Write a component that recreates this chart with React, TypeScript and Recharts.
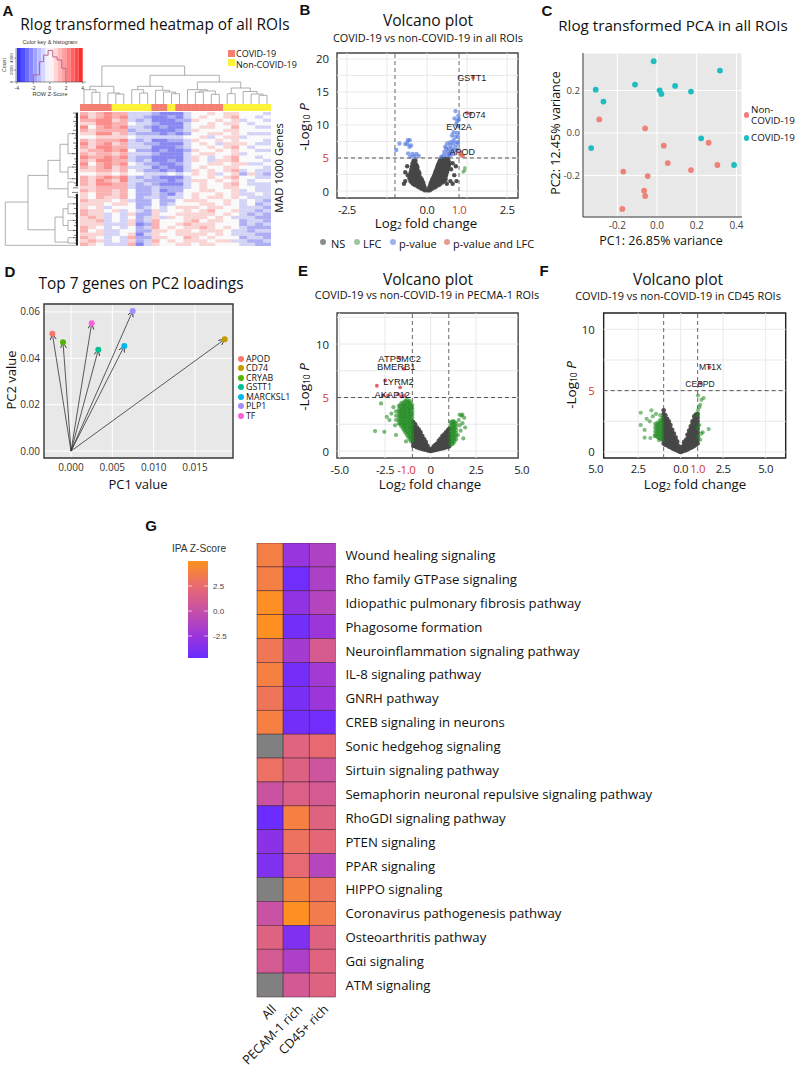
import {
  CartesianGrid, ComposedChart, Line, LineChart, ReferenceArea, ReferenceDot, ReferenceLine,
  Scatter, ScatterChart, XAxis, YAxis,
} from 'recharts';

const FONT = '"Open Sans", sans-serif';
const ARIAL = '"Liberation Sans", Arial, sans-serif';

type Pair = [number, number];
type Column = [number, number[]];

// ---- A: heatmap, z-scores by row (top to bottom) and column
const heatRows: number[][] = [
  [2, 1, 2, 3, 2, 2, -1, -1, -1, -2, -3, -3, -3, -1, 0, 0, 1, 0, 1, 1, 0, 0, 0, -1],
  [3, 1, 2, 3, 2, 3, -1, -1, -2, -3, -3, -2, -3, -1, 0, 1, 0, 0, 1, 2, 0, 0, -1, 0],
  [2, 2, 3, 3, 1, 2, -1, -2, -1, -3, -3, -3, -2, -2, 1, 0, 0, 1, 0, 1, -1, 0, 0, -1],
  [1, 1, 3, 3, 2, 2, 0, -1, -1, -2, -3, -3, -3, -1, 0, 0, 1, 0, 1, 1, 0, -1, 0, 0],
  [3, 0, 2, 3, 2, 3, -1, -1, -2, -3, -2, -3, -3, -1, 0, 1, 1, 0, 0, 2, 0, 0, -1, -1],
  [2, 1, 2, 2, 2, 2, -2, -1, -1, -3, -3, -3, -2, -1, 1, 0, 0, 0, 1, 1, 0, 0, 0, 0],
  [1, 1, 3, 3, 1, 2, -1, -2, -2, -2, -3, -2, -3, -2, 0, 0, 1, 1, 0, 1, 0, -1, -1, -1],
  [0, 0, 1, 1, 1, 1, 0, -1, -1, -1, -1, -1, -1, 0, 0, 1, -1, 0, 1, 1, -1, 0, 0, 0],
  [2, 1, 2, 2, 2, 3, -1, -2, -1, -3, -3, -2, -2, -1, 1, 0, 0, 1, 0, 1, 0, 0, 0, -1],
  [3, 1, 2, 3, 1, 2, -1, -1, -2, -2, -3, -3, -3, -1, 0, 1, 0, -1, 1, 1, 1, 0, -1, -1],
  [2, 1, 3, 3, 2, 2, -1, -1, -1, -3, -3, -3, -2, -1, 0, 0, 1, 0, 1, 2, 0, -1, 0, 0],
  [1, 2, 2, 3, 2, 3, 0, -2, -2, -3, -2, -3, -3, -2, 1, 0, 0, 1, 0, 1, 0, 0, -1, -1],
  [2, 1, 2, 2, 1, 2, -1, -1, -1, -2, -3, -3, -3, -1, 0, 1, 1, 0, 0, 1, -1, 0, 0, 0],
  [3, 2, 2, 3, 2, 3, -1, -2, -2, -3, -3, -3, -3, -1, 1, 0, -1, 0, 1, 2, 0, 0, -1, 0],
  [2, 1, 3, 3, 2, 2, -1, -2, -1, -3, -3, -2, -3, -1, 1, 0, -1, 1, 1, 2, 0, 0, 0, -1],
  [3, 0, 2, 3, 2, 3, 0, -1, -2, -2, -3, -3, -2, -1, 0, 0, 1, 1, 0, 1, 1, -1, -1, 0],
  [2, 1, 2, 3, 1, 2, -1, -1, -1, -3, -2, -3, -3, -1, 0, 1, 0, 0, 1, 1, 0, 0, 0, -1],
  [1, 1, 2, 2, 1, 2, 0, -1, -2, -2, -3, -2, -3, -1, 1, 0, 1, 0, 1, 2, -1, 0, -1, -1],
  [0, 0, 1, 1, 0, 1, 0, 0, -1, -1, -1, 0, -1, 0, 1, 0, 1, -1, 0, 1, -2, 1, -1, -2],
  [2, 1, 2, 3, 2, 3, -1, -2, -1, -2, -3, -3, -3, -1, 0, 0, 1, 0, 1, 2, 0, 0, -1, -1],
  [2, 1, 3, 2, 1, 3, -1, -1, -2, -2, -2, -3, -2, -1, 1, 1, 0, 1, 0, 1, 0, -1, 0, 0],
  [2, 1, 3, 3, 2, 2, -1, -2, -1, -2, -3, -3, -3, -1, 0, 1, 0, 0, 1, 2, 0, -1, -1, -1],
  [1, 1, 2, 2, 2, 2, -1, -2, -2, -1, -2, -2, -2, -1, 0, 1, 0, 0, 1, 1, 0, 0, -1, -1],
  [2, 1, 2, 2, 1, 2, 0, -2, -2, -1, -3, -2, -2, 0, 0, 1, 1, 0, 0, 1, -1, 0, -1, -1],
  [1, 0, 2, 2, 1, 2, 0, -2, -2, -1, -2, -3, -1, 0, 1, 0, 0, 1, 0, 1, -1, -1, 0, -1],
  [1, 0, 2, 1, 1, 2, 0, -2, -1, -1, -2, -1, -1, 0, 1, 0, 1, 1, 0, 1, 0, -1, -1, -1],
  [2, 1, 1, 1, 0, 1, -1, -2, -2, 0, -2, -2, 0, 1, 1, 1, 0, 0, 1, 0, -1, 0, -1, -2],
  [1, 1, 1, 0, 1, 1, 0, -2, -2, 0, -2, -1, 0, 0, 0, 1, 1, 0, 1, 0, -1, 0, -2, -1],
  [1, 0, 1, -1, 0, 0, 0, -2, -1, 0, -1, 0, 1, 1, 1, 0, 1, 1, 0, 0, -1, -1, -1, -2],
  [2, 1, 1, 0, 1, -1, 0, -1, -2, 1, -1, 0, 0, 1, 0, 1, 2, 0, 0, 1, -1, -1, -2, -1],
  [2, 1, 1, -1, 0, -1, 1, -2, -2, 1, 0, 0, 1, 1, 1, 1, 1, 0, 1, 0, -1, -2, -1, -2],
  [1, 2, 1, -1, 0, -1, 0, -2, -1, 1, -1, 1, 0, 1, 1, 1, 0, 1, 0, -1, -1, -1, -2, -2],
  [1, 1, 2, -1, 0, -1, 1, -2, -1, 2, 0, 0, 0, 1, 2, 0, 1, 1, 0, 0, -2, -1, -1, -2],
  [1, 1, 1, -1, -1, -1, 1, -3, -2, 2, 0, 0, 1, 2, 1, 1, 1, 0, 0, 0, -2, -1, -2, -1],
  [2, 1, 0, -1, 0, -1, 0, -2, -1, 2, 0, 1, 0, 1, 1, 2, 1, 0, 1, 0, -1, -2, -2, -2],
  [2, 0, 1, -1, -1, 0, 0, -2, -2, 1, 1, 0, 1, 1, 0, 1, 1, 1, 0, -1, -1, -2, -1, -1],
  [1, 1, 1, -1, -1, 0, 1, -3, -1, 1, 0, 0, 1, 1, 1, 1, 0, 1, 0, -1, -1, -1, -2, -2],
  [2, 1, 0, -1, 0, -1, 2, -2, -2, 1, 1, 0, 0, 2, 1, 0, 1, 0, 0, 0, -2, -1, -1, -2],
  [1, 2, 1, -1, 0, -1, 1, -2, -1, 2, 0, 1, 0, 1, 1, 1, 0, 1, 1, -1, -1, -2, -2, -1],
  [2, 1, 0, -1, -1, -1, 2, -3, -1, 1, 0, 0, 1, 1, 0, 1, 1, 0, 0, 0, -1, -1, -2, -2],
];
const columnGroups = ['c', 'c', 'c', 'c', 'n', 'n', 'n', 'n', 'n', 'c', 'c', 'n', 'c', 'c', 'c', 'c', 'c', 'c', 'n', 'n', 'n', 'n', 'n', 'n'];
// x1, x2, bar height, left child height, right child height
const topLinks: number[][] = [
  [1.5, 2.5, 11.7, 0, 0], [0.5, 2, 14.3, 0, 11.7], [4.5, 5.5, 10, 0, 0], [3.5, 5, 11, 0, 10], [1.25, 4.25, 17.7, 14.3, 11],
  [7.5, 8.5, 11, 0, 0], [6.5, 8, 14.3, 0, 11], [11.5, 12.5, 10.3, 0, 0], [10.5, 12, 12, 0, 10.3], [9.5, 11.25, 13.7, 0, 12],
  [7.25, 10.4, 17.7, 14.3, 13.7], [14.5, 15.5, 11.7, 0, 0], [16.5, 17.5, 9.7, 0, 0], [15, 17, 13, 11.7, 9.7], [13.5, 16, 14.3, 0, 13],
  [18.5, 19.5, 10.3, 0, 0], [22.5, 23.5, 8.7, 0, 0], [21.5, 23, 10, 0, 8.7], [20.5, 22.25, 12.5, 0, 10], [19, 21.4, 16, 10.3, 12.5],
  [14.75, 20.2, 22, 14.3, 16], [8.8, 17.5, 28.7, 17.7, 22], [2.75, 13.15, 38, 17.7, 28.7],
];
// depth, gene top, gene bottom, top child depth, bottom child depth
const leftLinks: number[][] = [
  [72.7, 672, 995, 50, 0], [50, 473, 879, 30, 23], [30, 361, 573, 18, 10], [18, 241, 448, 10, 10], [10, 162, 311, 5, 5],
  [10, 411, 498, 5, 5], [10, 523, 635, 4, 4], [23, 784, 971, 15, 10], [15, 722, 847, 10, 10], [10, 685, 759, 4, 4],
  [10, 809, 884, 4, 4], [10, 938, 978, 4, 4],
];
const fanLeaves: Pair[] = [
  [5, 8], [3, 22], [4, 38], [2, 52], [5, 70], [3, 88], [4, 104], [2, 120], [5, 136], [6, 162], [3, 178], [4, 196], [2, 214], [5, 232],
  [3, 254], [4, 272], [6, 311], [2, 328], [4, 350], [3, 372], [5, 392], [6, 411], [3, 430], [4, 452], [6, 498], [2, 512], [4, 530],
  [3, 548], [5, 566], [6, 600], [3, 622], [4, 640], [5, 685], [2, 700], [4, 720], [5, 759], [3, 776], [5, 809], [3, 826], [4, 848],
  [5, 884], [2, 900], [4, 920], [5, 938], [3, 956], [4, 978], [2, 990],
];
const fanBand: (Pair | null)[] = [[1, 5], [1, 555], null, [1, 610], [1, 995]];
const keyBins = [-4, -3.5, -3, -2.5, -2, -1.5, -1, -0.5, 0, 0.5, 1, 1.5, 2, 2.5, 3, 3.5, 4];
const keyHistogram: Pair[] = [[-2, 0], [-2, 1200], [-1.25, 3400], [-0.75, 4500], [-0.2, 5300], [0.37, 4200], [0.9, 3700], [1.46, 2300], [1.96, 0]];

// ---- B
const nsRowsB: Column[] = [
  [0.1, [-0.08, -0.02, 0.04, 0.09]],
  [0.35, [-0.17, -0.1, 0.09, 0.16]],
  [0.52, [-0.24, -0.15, -0.07, 0.07, 0.16, 0.24]],
  [0.7, [-0.3, -0.2, -0.11, 0.12, 0.21, 0.29]],
  [0.9, [-0.38, -0.28, -0.18, -0.1, 0.1, 0.18, 0.28, 0.37]],
  [1.1, [-0.44, -0.34, -0.24, -0.14, 0.14, 0.23, 0.33, 0.42, 0.62, 0.8, -0.72]],
  [1.3, [-0.48, -0.38, -0.28, -0.19, -0.12, 0.12, 0.2, 0.3, 0.4, 0.49]],
  [1.5, [-0.52, -0.42, -0.32, -0.23, -0.15, 0.16, 0.25, 0.35, 0.44, 0.53, 0.73, 0.92, -0.68]],
  [1.72, [-0.5, -0.41, -0.32, -0.23, -0.16, 0.16, 0.24, 0.33, 0.42, 0.52, 0.58]],
  [1.95, [-0.55, -0.46, -0.37, -0.28, -0.19, 0.19, 0.28, 0.37, 0.47, 0.56]],
  [2.17, [-0.5, -0.41, -0.32, -0.23, 0.21, 0.3, 0.4, 0.49, 0.58]],
  [2.4, [-0.6, -0.53, -0.44, -0.35, -0.26, 0.23, 0.32, 0.41, 0.5, 0.59, 0.85]],
  [2.62, [-0.48, -0.39, -0.3, -0.24, 0.25, 0.34, 0.43, 0.52, 0.6]],
  [2.85, [-0.68, -0.51, -0.42, -0.33, -0.25, 0.26, 0.35, 0.44, 0.53, 0.62]],
  [3.07, [-0.46, -0.37, -0.29, 0.28, 0.37, 0.46, 0.55, 0.63]],
  [3.3, [-0.49, -0.4, -0.31, 0.3, 0.39, 0.48, 0.57, 0.64, 0.75]],
  [3.52, [-0.44, -0.36, -0.3, 0.32, 0.41, 0.5, 0.59, 0.66]],
  [3.75, [-0.62, -0.47, -0.38, -0.31, 0.33, 0.42, 0.51, 0.6, 0.67, 0.9]],
  [3.97, [-0.42, -0.34, 0.35, 0.44, 0.53, 0.62, 0.68]],
  [4.2, [-0.45, -0.37, 0.37, 0.46, 0.55, 0.64, 0.7, 0.8]],
  [4.4, [-0.4, 0.39, 0.48, 0.57, 0.66]],
  [4.6, [-0.42, -0.36, 0.4, 0.49, 0.58, 0.67]],
  [4.9, [0.45, 0.55, 0.65]],
];
const lfcB: Pair[] = [[1.18, 3.5], [1.13, 2.9], [1.17, 3.1]];
const pvalueB: Pair[] = [
  [0.89, 12.1], [0.98, 11.4], [0.86, 11], [0.94, 10.6], [0.99, 10.8], [0.91, 10.1], [0.97, 9.8], [0.83, 8.9], [0.94, 8.8], [0.78, 8.4],
  [0.89, 8.2], [0.97, 8.2], [0.73, 7.4], [0.83, 7.7], [0.63, 7.2], [0.73, 6.9], [0.83, 7.2], [0.94, 7.4], [0.57, 6.7], [0.68, 6.4],
  [0.78, 6.4], [0.89, 6.7], [0.97, 7.2], [0.54, 5.9], [0.65, 5.9], [0.75, 5.9], [0.85, 6.1], [0.52, 5.4], [0.63, 5.4], [0.73, 5.4],
  [0.83, 5.6], [0.94, 6.2], [0.6, 6.4], [0.7, 5.6], [0.45, 5.2],
  [-0.96, 6.2], [-0.86, 7.2], [-0.6, 7.7], [-0.54, 7.7], [-0.62, 7.2], [-0.5, 6.9], [-0.68, 7.1], [-0.55, 6.7], [-0.45, 5.6], [-0.59, 5.7],
  [-0.33, 5.6], [-0.52, 5.2], [-0.4, 5.2], [-0.26, 5.3],
];
const bothB: Pair[] = [[1.44, 17.2], [1.25, 11.8], [1.35, 11.7], [1.07, 5.4], [1.12, 5.3], [1.04, 5.8]];
const genesB: [string, number, number][] = [['GSTT1', 1.4, 17.1], ['CD74', 1.47, 11.6], ['EVI2A', 1.0, 9.7], ['APOD', 1.1, 5.9]];
const legendB = ['NS', 'LFC', 'p-value', 'p-value and LFC'];
const legendColorsB = ['#8c8c8c', '#9cc79c', '#9db1ee', '#e79a90'];

// ---- C
const covidPca: Pair[] = [
  [-0.017, 0.338], [0.317, 0.294], [-0.309, 0.204], [-0.111, 0.228], [0.013, 0.201], [0.022, 0.184], [0.091, 0.222], [0.171, 0.195],
  [-0.27, 0.148], [0.222, -0.025], [-0.332, -0.071], [0.388, -0.151],
];
const nonCovidPca: Pair[] = [
  [-0.291, 0.064], [-0.06, 0.022], [0.034, -0.06], [0.26, -0.046], [0.054, -0.142], [0.304, -0.151], [0.171, -0.175], [-0.17, -0.182],
  [-0.047, -0.203], [-0.065, -0.272], [-0.06, -0.297], [-0.175, -0.358],
];

// ---- D
const loadingGenes = ['APOD', 'CD74', 'CRYAB', 'GSTT1', 'MARCKSL1', 'PLP1', 'TF'];
const loadingPc1 = [-0.00226, 0.0186, -0.00097, 0.0033, 0.00645, 0.00746, 0.0025];
const loadingPc2 = [0.0506, 0.0482, 0.0469, 0.0437, 0.0453, 0.0604, 0.0551];
const loadingColors = ['#f8766d', '#c49a00', '#53b400', '#00c094', '#00b6eb', '#a58aff', '#fb61d7'];

// ---- E
const nsColsE: Column[] = [
  [-0.95, [0.5, 0.8, 1.1, 1.4, 1.7, 2, 2.3, 2.7]],
  [-0.85, [0.45, 0.75, 1.05, 1.35, 1.65, 1.95, 2.25, 2.5]],
  [-0.75, [0.35, 0.65, 0.95, 1.25, 1.55, 1.9, 2.2]],
  [-0.65, [0.3, 0.6, 0.9, 1.2, 1.5, 1.85, 2.0]],
  [-0.55, [0.25, 0.55, 0.85, 1.15, 1.5, 1.75]],
  [-0.45, [0.2, 0.5, 0.8, 1.1, 1.4]],
  [-0.35, [0.15, 0.45, 0.75, 1.1]],
  [-0.26, [0.12, 0.35, 0.6, 0.85]],
  [-0.17, [0.08, 0.3, 0.5]],
  [-0.08, [0.03, 0.2]],
  [0, [0, 0.12]],
  [0.08, [0.03, 0.18]],
  [0.17, [0.07, 0.28, 0.42]],
  [0.26, [0.1, 0.32, 0.55]],
  [0.35, [0.14, 0.4, 0.68]],
  [0.45, [0.18, 0.45, 0.72, 0.95]],
  [0.55, [0.22, 0.5, 0.8, 1.15]],
  [0.65, [0.27, 0.55, 0.85, 1.15, 1.4]],
  [0.75, [0.3, 0.6, 0.9, 1.25, 1.55]],
  [0.85, [0.35, 0.65, 0.95, 1.25, 1.55, 1.75]],
  [0.95, [0.4, 0.7, 1, 1.3, 1.6, 1.95]],
  [1.02, [0.45, 0.75, 1.05, 1.35, 1.65, 2.05]],
];
const lfcColsE: Column[] = [
  [-1, [1, 1.3, 1.6, 1.9, 2.2, 2.5, 2.8, 3.1, 3.4, 3.7, 4, 4.3]],
  [-1.08, [0.9, 1.2, 1.5, 1.8, 2.1, 2.4, 2.7, 3, 3.3, 3.6, 3.9, 4.2, 4.5]],
  [-1.15, [1.1, 1.4, 1.7, 2, 2.3, 2.6, 2.9, 3.2, 3.5, 3.8, 4.1, 4.4, 4.7]],
  [-1.22, [1.3, 1.6, 1.9, 2.2, 2.5, 2.8, 3.1, 3.4, 3.7, 4, 4.3, 4.6]],
  [-1.3, [1.5, 1.8, 2.1, 2.4, 2.7, 3, 3.3, 3.6, 3.9, 4.2, 4.5, 4.8]],
  [-1.38, [1.7, 2, 2.3, 2.6, 2.9, 3.2, 3.5, 3.8, 4.1, 4.4, 4.7]],
  [-1.45, [1.9, 2.2, 2.5, 2.8, 3.1, 3.4, 3.7, 4, 4.3, 4.6]],
  [-1.52, [2.1, 2.4, 2.7, 3, 3.3, 3.6, 3.9, 4.2, 4.4]],
  [-1.6, [2.3, 2.6, 2.9, 3.2, 3.5, 3.8, 4.1, 4.5]],
  [-1.68, [2.5, 2.8, 3.1, 3.4, 3.7, 4, 4.3]],
  [-1.75, [2.6, 2.9, 3.2, 3.5, 3.8, 4.2]],
  [-1.9, [2.9, 3.3, 3.7]],
  [1.1, [0.6, 0.9, 1.2, 1.5, 1.8, 2.1, 2.4, 2.7]],
  [1.18, [0.65, 0.95, 1.25, 1.55, 1.85, 2.15, 2.45, 2.75]],
  [1.25, [0.7, 1, 1.3, 1.6, 1.9, 2.2, 2.5, 2.8]],
  [1.32, [0.9, 1.2, 1.5, 1.8, 2.1, 2.4, 2.7]],
  [1.4, [1.1, 1.4, 1.7, 2, 2.3, 2.6]],
];
const lfcLooseE: Pair[] = [
  [-3.05, 1.87], [-2.54, 1.8], [-2.72, 4.45], [-2.26, 2.9], [-2.4, 3.2], [-1.9, 1.5], [-1.35, 0.9], [-2.04, 4.1], [-2.15, 3.5], [-1.95, 2.4],
  [1.55, 2.9], [1.7, 3.3], [1.85, 3.1], [1.6, 2.4], [1.75, 2.6], [1.65, 1.9], [1.9, 2.2], [1.8, 1.18], [1.6, 3.4], [1.5, 1.5], [1.75, 3.4],
];
const bothE: Pair[] = [[-2.95, 6.1], [-2.49, 6.6], [-1.47, 7.7], [-1.7, 8.7], [-1.67, 5.95], [-1.78, 5.3], [-1.61, 5.1], [-1.43, 5.2], [-2.34, 5.2], [-2.6, 5.2]];
const genesE: [string, number, number][] = [['ATP5MC2', -1.7, 8.6], ['BMERB1', -1.89, 7.9], ['LYRM2', -1.76, 6.5], ['AKAP12', -2.1, 5.3]];

// ---- F
const nsColsF: Column[] = [
  [-1, [0.7, 1, 1.3, 1.6, 1.9, 2.2, 2.5, 2.8, 3.1, 3.4]],
  [-0.9, [0.6, 0.9, 1.2, 1.5, 1.8, 2.1, 2.4, 2.7, 3.0]],
  [-0.8, [0.55, 0.85, 1.15, 1.45, 1.75, 2.05, 2.35, 2.7]],
  [-0.7, [0.45, 0.75, 1.05, 1.35, 1.65, 1.95, 2.3, 2.5]],
  [-0.6, [0.4, 0.7, 1, 1.3, 1.6, 1.9, 2.2]],
  [-0.5, [0.3, 0.6, 0.9, 1.2, 1.5, 1.8]],
  [-0.4, [0.25, 0.55, 0.85, 1.15, 1.5]],
  [-0.3, [0.18, 0.45, 0.72, 1.0, 1.2]],
  [-0.2, [0.12, 0.35, 0.6, 0.85]],
  [-0.1, [0.05, 0.25, 0.45]],
  [0, [0, 0.15]],
  [0.1, [0.05, 0.22, 0.42]],
  [0.2, [0.1, 0.3, 0.55, 0.8]],
  [0.3, [0.15, 0.4, 0.65, 0.95]],
  [0.4, [0.2, 0.5, 0.8, 1.1, 1.4]],
  [0.5, [0.28, 0.58, 0.88, 1.18, 1.5, 1.75]],
  [0.6, [0.35, 0.65, 0.95, 1.25, 1.55, 1.9, 2.1]],
  [0.7, [0.42, 0.72, 1.02, 1.32, 1.62, 1.95, 2.3, 2.5]],
  [0.8, [0.5, 0.8, 1.1, 1.4, 1.7, 2, 2.3, 2.6, 2.9]],
  [0.9, [0.6, 0.9, 1.2, 1.5, 1.8, 2.1, 2.4, 2.75, 3.05]],
  [1, [0.7, 1, 1.3, 1.6, 1.9, 2.2, 2.5, 2.8, 3.1]],
];
const lfcColsF: Column[] = [
  [-1.08, [1, 1.3, 1.6, 1.9, 2.2, 2.5, 2.8]],
  [-1.15, [1.05, 1.35, 1.65, 1.95, 2.25, 2.55]],
  [-1.22, [1.1, 1.4, 1.7, 2, 2.3, 2.6]],
  [-1.29, [1.15, 1.45, 1.75, 2.05, 2.35]],
  [-1.36, [1.2, 1.5, 1.8, 2.1, 2.4]],
  [-1.43, [1.3, 1.6, 1.9, 2.2]],
  [-1.5, [1.4, 1.7, 2, 2.3]],
];
const lfcLooseF: Pair[] = [
  [-2.35, 3.2], [-2.35, 2.2], [-2.12, 1.8], [-2.12, 1.17], [-1.72, 3.4], [-1.64, 2.9], [-1.82, 2.5], [-1.78, 1.13], [-1.53, 1.3], [-1.27, 0.95],
  [-1.45, 3.1], [-1.2, 3], [-2, 2.7],
  [1.35, 4.4], [1.22, 4.25], [1.02, 4.6], [1.1, 3.65], [1.02, 3.4], [1.15, 3.85], [1, 3], [1.22, 1.5], [1.65, 1.87], [1.02, 1.95], [1.3, 1.6],
  [1.1, 2.2], [1.15, 1], [1.05, 1.3],
];
const bothF: Pair[] = [[1.7, 6.9], [1.18, 5.6]];
const genesF: [string, number, number][] = [['MT1X', 1.75, 6.9], ['CEBPD', 1.14, 5.57]];

// ---- G
const pathways = [
  'Wound healing signaling', 'Rho family GTPase signaling', 'Idiopathic pulmonary fibrosis pathway', 'Phagosome formation',
  'Neuroinflammation signaling pathway', 'IL-8 signaling pathway', 'GNRH pathway', 'CREB signaling in neurons', 'Sonic hedgehog signaling',
  'Sirtuin signaling pathway', 'Semaphorin neuronal repulsive signaling pathway', 'RhoGDI signaling pathway', 'PTEN signaling', 'PPAR signaling',
  'HIPPO signaling', 'Coronavirus pathogenesis pathway', 'Osteoarthritis pathway', 'Gαi signaling', 'ATM signaling',
];
const ipaColumns = ['All', 'PECAM-1 rich', 'CD45+ rich'];
const zAll = [3.8, 3.8, 4.8, 4.9, 3.3, 3.9, 3.2, 3.9, null, 2.9, 0.3, -4.6, -3.2, -3.7, null, 0.2, 1.8, 1.0, null];
const zPecam = [-2.6, -4.4, -2.9, -4.3, -1.9, -4.2, -4.0, -4.3, 1.9, 1.7, 1.5, 3.9, 3.0, 2.4, 4.0, 4.9, -3.7, -1.5, 0.9];
const zCd45 = [-1.3, -1.4, -1.0, -2.4, 1.1, -2.0, -2.4, -4.4, 2.5, 0.5, 1.0, 1.8, 2.2, -0.9, 3.2, 3.6, 1.8, 1.9, 1.8];
const ipaStops: [number, number[]][] = [[-4.7, [106, 44, 255]], [-2.5, [154, 53, 220]], [0, [198, 80, 168]], [2.5, [232, 106, 112]], [5, [255, 146, 30]]];
const ipaTicks = [-2.5, 0, 2.5];

const toPoints = (a: Pair[]) => a.map(([x, y]) => ({ x, y }));
const fromRows = (rows: Column[]) => rows.flatMap(([y, xs]) => xs.map((x) => ({ x, y })));
const fromCols = (cols: Column[]) => cols.flatMap(([x, ys]) => ys.map((y) => ({ x, y })));

function heatColor(z: number) {
  const t = Math.min(Math.abs(z) / 3, 1);
  const end = z > 0 ? [250, 140, 140] : [136, 136, 240];
  const c = end.map((v) => Math.round(250 + (v - 250) * t));
  return `rgb(${c.join(',')})`;
}

function keyColor(z: number) {
  const t = Math.min(Math.abs(z) / 4, 1);
  const c = z > 0 ? [255, 255 - 225 * t, 255 - 225 * t] : [255 - 215 * t, 255 - 215 * t, 255];
  return `rgb(${c.map(Math.round).join(',')})`;
}

function ipaColor(z: number | null) {
  if (z === null) return '#808080';
  for (let i = 1; i < ipaStops.length; i++) {
    if (z <= ipaStops[i][0]) {
      const [a, ca] = ipaStops[i - 1];
      const [b, cb] = ipaStops[i];
      const t = (z - a) / (b - a);
      return `rgb(${ca.map((v, k) => Math.round(v + (cb[k] - v) * t)).join(',')})`;
    }
  }
  return 'rgb(255,146,30)';
}

function Txt({ x, y, size = 12, rotate = 0, bold = false, family = FONT, color = '#111', align = 'center', children }: any) {
  const shift = align === 'left' ? 'translate(0,-50%)' : 'translate(-50%,-50%)';
  return (
    <div style={{ position: 'absolute', left: x, top: y, fontSize: size, fontFamily: family, fontWeight: bold ? 700 : 400, color, lineHeight: 1, whiteSpace: 'nowrap', transform: `${shift} rotate(${rotate}deg)` }}>
      {children}
    </div>
  );
}

const Sub = ({ children }: any) => <span style={{ fontSize: '0.62em', verticalAlign: '-0.12em' }}>{children}</span>;
const LogP = () => <>-Log<Sub>10</Sub> <i>P</i></>;
const LogFc = () => <>Log<Sub>2</Sub> fold change</>;

const Dot = ({ x, y, r, color }: any) => (
  <div style={{ position: 'absolute', left: x - r, top: y - r, width: r * 2, height: r * 2, borderRadius: '50%', background: color }} />
);

const dotShape = (r: number, fill: string, opacity = 1) => (p: any) => <circle cx={p.cx} cy={p.cy} r={r} fill={fill} fillOpacity={opacity} />;

function linkPath(a: number, b: number, h: number, ha: number, hb: number) {
  return [{ x: a, y: ha }, { x: a, y: h }, { x: b, y: h }, { x: b, y: hb }, { x: b, y: null }];
}

const topDendro = topLinks.flatMap(([a, b, h, ha, hb]) => linkPath(a, b, h, ha, hb));
const leftDendro = leftLinks.flatMap(([d, g1, g2, d1, d2]) => [{ x: d1, y: g1 }, { x: d, y: g1 }, { x: d, y: g2 }, { x: d2, y: g2 }, { x: d2, y: null }]);
const fanLines = fanLeaves.flatMap(([d, g]) => [{ x: d, y: g }, { x: 0, y: g }, { x: 0, y: null }]);
const fanBandLine = fanBand.map((p) => (p ? { x: p[0], y: p[1] } : { x: 1, y: null }));
const heatCells = heatRows.flatMap((row, r) => row.map((z, c) => ({ x: c + 0.5, y: r + 0.5, z })));
const annotCells = columnGroups.map((g, c) => ({ x: c + 0.5, y: 0.5, g }));
const ipaCells = pathways.flatMap((_, r) => [zAll[r], zPecam[r], zCd45[r]].map((z, c) => ({ x: c + 0.5, y: r + 0.5, z })));

function HeatmapPanel() {
  const cellW = 191 / 24;
  const cellH = 134 / heatRows.length;
  return (
    <>
      <Txt x={8} y={10} size={15} bold family={ARIAL}>A</Txt>
      <Txt x={155} y={25} size={15.4}>Rlog transformed heatmap of all ROIs</Txt>
      <Txt x={50} y={43} size={5.6} family={ARIAL} color="#333">Color key &amp; histogram</Txt>
      <Txt x={50} y={95} size={5.6} family={ARIAL} color="#333">ROW Z-Score</Txt>
      <Txt x={5} y={65} size={5.2} rotate={-90} family={ARIAL} color="#333">Count</Txt>
      <div style={{ position: 'absolute', left: 4, top: 47 }}>
        <ComposedChart width={84} height={45} data={keyHistogram.map(([x, y]) => ({ x, y }))} margin={{ top: 1, right: 2, bottom: 0, left: 0 }}>
          <XAxis dataKey="x" type="number" domain={[-4.1, 4.4]} ticks={[-4, -2, 0, 2, 4]} interval={0} height={10} tickSize={2} tick={{ fontSize: 5, fill: '#333', fontFamily: ARIAL }} stroke="#333" strokeWidth={0.5} />
          <YAxis type="number" domain={[0, 5700]} ticks={[0, 2000, 4000]} interval={0} width={12} tickSize={2} stroke="#333" strokeWidth={0.5}
            tick={(p: any) => <text x={p.x + 1} y={p.y} fontSize={4.4} fill="#333" fontFamily={ARIAL} textAnchor="middle" transform={`rotate(-90 ${p.x + 1} ${p.y})`}>{p.payload.value}</text>} />
          {keyBins.map((b) => <ReferenceArea key={b} x1={b} x2={b + 0.5} y1={0} y2={5700} fill={keyColor(b + 0.25)} fillOpacity={1} stroke="none" />)}
          <Line dataKey="y" type="stepAfter" stroke="#b8658c" strokeWidth={1} dot={false} isAnimationActive={false} />
        </ComposedChart>
      </div>
      <div style={{ position: 'absolute', left: 228, top: 50, width: 7, height: 7, background: '#f47f74' }} />
      <div style={{ position: 'absolute', left: 228, top: 59, width: 7, height: 7, background: '#fdf33a' }} />
      <Txt x={236} y={53} size={9} align="left">COVID-19</Txt>
      <Txt x={236} y={63.5} size={9} align="left">Non-COVID-19</Txt>
      <div style={{ position: 'absolute', left: 80, top: 65 }}>
        <LineChart width={191} height={39} data={topDendro} margin={{ top: 0, right: 0, bottom: 0, left: 0 }}>
          <XAxis hide dataKey="x" type="number" domain={[0, 24]} />
          <YAxis hide type="number" domain={[0, 39]} />
          <Line dataKey="y" stroke="#9a9a9a" strokeWidth={0.8} dot={false} isAnimationActive={false} />
        </LineChart>
      </div>
      <div style={{ position: 'absolute', left: 4, top: 112 }}>
        <LineChart width={74} height={134} data={leftDendro} margin={{ top: 0, right: 0, bottom: 0, left: 0 }}>
          <XAxis hide dataKey="x" type="number" reversed domain={[0, 74]} />
          <YAxis hide type="number" reversed domain={[0, 1000]} />
          <Line dataKey="y" stroke="#9a9a9a" strokeWidth={0.8} dot={false} isAnimationActive={false} />
          <Line data={fanLines} dataKey="y" stroke="#222" strokeWidth={0.6} dot={false} isAnimationActive={false} />
          <Line data={fanBandLine} dataKey="y" stroke="#111" strokeWidth={1.8} dot={false} isAnimationActive={false} />
        </LineChart>
      </div>
      <div style={{ position: 'absolute', left: 80, top: 104 }}>
        <ScatterChart width={191} height={7} margin={{ top: 0, right: 0, bottom: 0, left: 0 }}>
          <XAxis hide dataKey="x" type="number" domain={[0, 24]} />
          <YAxis hide dataKey="y" type="number" domain={[0, 1]} />
          <Scatter data={annotCells} isAnimationActive={false}
            shape={(p: any) => <rect x={p.cx - cellW / 2 - 0.2} y={p.cy - 3.5} width={cellW + 0.4} height={7} fill={p.payload.g === 'c' ? '#f47f74' : '#fdf33a'} />} />
        </ScatterChart>
      </div>
      <div style={{ position: 'absolute', left: 80, top: 112 }}>
        <ScatterChart width={191} height={134} margin={{ top: 0, right: 0, bottom: 0, left: 0 }}>
          <XAxis hide dataKey="x" type="number" domain={[0, 24]} />
          <YAxis hide dataKey="y" type="number" reversed domain={[0, heatRows.length]} />
          <Scatter data={heatCells} isAnimationActive={false}
            shape={(p: any) => <rect x={p.cx - cellW / 2} y={p.cy - cellH / 2} width={cellW + 0.3} height={cellH + 0.3} fill={heatColor(p.payload.z)} />} />
        </ScatterChart>
      </div>
      <Txt x={279} y={168} size={11.2} rotate={-90}>MAD 1000 Genes</Txt>
    </>
  );
}

function Volcano({ plot, xDomain, yDomain, frameX, gridX, gridY, ticksX, ticksY, red, format, yDx = -6, frameColor = '#444', series, genes, labelSize = 9 }: any) {
  const [left, top, w, h] = plot;
  const [x1, x2] = frameX;
  const [y1, y2] = yDomain;
  return (
    <div style={{ position: 'absolute', left: left - 40, top: top - 2 }}>
      <ScatterChart width={40 + w + 14} height={2 + h + 22} margin={{ top: 2, right: 14, bottom: 0, left: 0 }}>
        <XAxis dataKey="x" type="number" domain={xDomain} ticks={ticksX} interval={0} height={22} tickSize={0} axisLine={false} tickLine={false}
          tick={(p: any) => {
            const v = p.payload.value;
            return <text x={p.x + (v === -1 ? -6 : 0)} y={p.y + 9} fontSize={11.4} letterSpacing={-0.4} fontFamily={FONT} fill={v === red[0] ? '#d8342c' : '#222'} textAnchor="middle" dominantBaseline="central">{format(v)}</text>;
          }} />
        <YAxis dataKey="y" type="number" domain={yDomain} ticks={ticksY} interval={0} width={40} tickSize={0} axisLine={false} tickLine={false}
          tick={(p: any) => <text x={p.x + yDx} y={p.y} fontSize={11.4} fontFamily={FONT} fill={p.payload.value === red[1] ? '#d8342c' : '#222'} textAnchor="end" dominantBaseline="central">{p.payload.value}</text>} />
        {gridX.map((v: number) => <ReferenceLine key={`gx${v}`} segment={[{ x: v, y: y1 }, { x: v, y: y2 }]} stroke="#e9e9e9" strokeWidth={1} />)}
        {gridY.map((v: number) => <ReferenceLine key={`gy${v}`} segment={[{ x: x1, y: v }, { x: x2, y: v }]} stroke="#e9e9e9" strokeWidth={1} />)}
        {series.map((s: any) => <Scatter key={s.name} name={s.name} data={s.data} fill={s.fill} isAnimationActive={false} shape={dotShape(s.r, s.fill, s.opacity)} />)}
        <ReferenceLine segment={[{ x: -1, y: y1 }, { x: -1, y: y2 }]} stroke="#666" strokeDasharray="4 3" />
        <ReferenceLine segment={[{ x: 1, y: y1 }, { x: 1, y: y2 }]} stroke="#666" strokeDasharray="4 3" />
        <ReferenceLine segment={[{ x: x1, y: 5 }, { x: x2, y: 5 }]} stroke="#555" strokeDasharray="4 3" />
        <ReferenceArea x1={x1} x2={x2} y1={y1} y2={y2} fill="none" stroke={frameColor} strokeWidth={1.4} />
        {genes.map(([name, x, y]: [string, number, number]) => (
          <ReferenceDot key={name} x={x} y={y} r={0.01} fill="none" stroke="none" label={{ value: name, position: 'center', fontSize: labelSize, fontFamily: ARIAL, fill: '#1a1a1a' }} />
        ))}
      </ScatterChart>
    </div>
  );
}

function PcaPanel() {
  return (
    <>
      <Txt x={547} y={10} size={15} bold family={ARIAL}>C</Txt>
      <Txt x={673} y={26} size={15.2}>Rlog transformed PCA in all ROIs</Txt>
      <div style={{ position: 'absolute', left: 583 - 34, top: 51 }}>
        <ScatterChart width={34 + 159 + 2} height={2 + 164 + 20} margin={{ top: 2, right: 2, bottom: 0, left: 0 }}>
          <CartesianGrid fill="#e8e8e8" stroke="#fff" />
          <XAxis dataKey="x" type="number" domain={[-0.373, 0.428]} ticks={[-0.2, 0, 0.2, 0.4]} interval={0} height={20} stroke="#333" tickSize={0} tickMargin={5} tickFormatter={(v) => v.toFixed(1)} tick={{ fontSize: 10, fill: '#444', fontFamily: FONT }} />
          <YAxis dataKey="y" type="number" domain={[-0.396, 0.377]} ticks={[-0.2, 0, 0.2]} interval={0} width={34} stroke="#333" tickSize={0} tickMargin={3} tickFormatter={(v) => v.toFixed(1)} tick={{ fontSize: 9.6, fill: '#444', fontFamily: FONT }} />
          <Scatter data={toPoints(covidPca)} isAnimationActive={false} shape={dotShape(2.9, '#1dbdc2')} />
          <Scatter data={toPoints(nonCovidPca)} isAnimationActive={false} shape={dotShape(2.9, '#ee8179')} />
        </ScatterChart>
      </div>
      <Txt x={661} y={241} size={12.5}>PC1: 26.85% variance</Txt>
      <Txt x={556} y={133} size={12.5} rotate={-90}>PC2: 12.45% variance</Txt>
      <Dot x={746.5} y={115} r={2.7} color="#ee8179" />
      <Dot x={746.5} y={138} r={2.7} color="#1dbdc2" />
      <Txt x={751} y={110} size={9.8} align="left">Non-</Txt>
      <Txt x={751} y={120.5} size={9.8} align="left">COVID-19</Txt>
      <Txt x={751} y={138} size={9.8} align="left">COVID-19</Txt>
    </>
  );
}

function LoadingsPanel() {
  return (
    <>
      <Txt x={10} y={271} size={15} bold family={ARIAL}>D</Txt>
      <Txt x={141} y={284} size={15.4}>Top 7 genes on PC2 loadings</Txt>
      <div style={{ position: 'absolute', left: 44 - 34, top: 302 }}>
        <ComposedChart width={34 + 189 + 2} height={2 + 154 + 20} margin={{ top: 2, right: 2, bottom: 0, left: 0 }}>
          <defs>
            <marker id="arrowD" markerWidth="7" markerHeight="7" refX="6" refY="3" orient="auto" markerUnits="userSpaceOnUse">
              <path d="M0,0 L6,3 L0,6" fill="none" stroke="#222" strokeWidth={0.8} />
            </marker>
          </defs>
          <CartesianGrid fill="#e8e8e8" stroke="#fff" />
          <XAxis dataKey="x" type="number" domain={[-0.00327, 0.0196]} ticks={[0, 0.005, 0.01, 0.015]} interval={0} height={20} tickSize={0} tickMargin={6} axisLine={false} tickFormatter={(v) => v.toFixed(3)} tick={{ fontSize: 10, fill: '#333', fontFamily: FONT }} />
          <YAxis dataKey="y" type="number" domain={[-0.003, 0.0634]} ticks={[0, 0.02, 0.04, 0.06]} interval={0} width={34} tickSize={0} tickMargin={4} axisLine={false} tickFormatter={(v) => v.toFixed(2)} tick={{ fontSize: 10, fill: '#333', fontFamily: FONT }} />
          {loadingGenes.map((g, i) => (
            <Scatter key={g} data={[{ x: loadingPc1[i], y: loadingPc2[i] }]} isAnimationActive={false} shape={dotShape(3, loadingColors[i])} />
          ))}
          {loadingGenes.map((g, i) => (
            <Line key={`${g}-arrow`} data={[{ x: 0, y: 0 }, { x: loadingPc1[i], y: loadingPc2[i] }]} dataKey="y" stroke="#333" strokeWidth={0.8} dot={false} isAnimationActive={false} markerEnd="url(#arrowD)" />
          ))}
          <ReferenceArea x1={-0.00327} x2={0.0196} y1={-0.003} y2={0.0634} fill="none" stroke="#333" strokeWidth={1.4} />
        </ComposedChart>
      </div>
      <Txt x={138} y={484} size={13}>PC1 value</Txt>
      <Txt x={11} y={380} size={13} rotate={-90}>PC2 value</Txt>
      {loadingGenes.map((g, i) => (
        <div key={g}>
          <Dot x={240.5} y={358.5 + i * 9.5} r={3} color={loadingColors[i]} />
          <Txt x={246} y={358.5 + i * 9.5} size={8.8} align="left">{g}</Txt>
        </div>
      ))}
    </>
  );
}

function PathwayPanel() {
  const cellW = 78.4 / 3;
  const cellH = 454 / pathways.length;
  const ticksY = pathways.map((_, i) => i + 0.5);
  return (
    <>
      <Txt x={151} y={525} size={15} bold family={ARIAL}>G</Txt>
      <Txt x={199} y={549} size={10.2} family={ARIAL} color="#333">IPA Z-Score</Txt>
      <div style={{ position: 'absolute', left: 188, top: 561 }}>
        <ScatterChart width={50} height={97} margin={{ top: 0, right: 0, bottom: 0, left: 0 }}>
          <defs>
            <linearGradient id="ipaRamp" x1="0" y1="1" x2="0" y2="0">
              {ipaStops.map(([z, c]) => <stop key={z} offset={(z + 4.7) / 9.7} stopColor={`rgb(${c.join(',')})`} />)}
            </linearGradient>
          </defs>
          <XAxis hide dataKey="x" type="number" domain={[0, 1]} />
          <YAxis orientation="right" dataKey="y" type="number" domain={[-4.7, 5]} ticks={ipaTicks} interval={0} width={30} axisLine={false} tickLine={false} tickSize={0} tickMargin={5} tick={{ fontSize: 8, fill: '#444', fontFamily: ARIAL }} tickFormatter={(v) => v.toFixed(1)} />
          <Scatter data={[{ x: 0.5, y: 0.15 }]} isAnimationActive={false}
            shape={(p: any) => <rect x={p.cx - 10} y={p.cy - 48.5} width={20} height={97} fill="url(#ipaRamp)" />} />
          {ipaTicks.map((v) => (
            <Scatter key={v} data={[{ x: 0.1, y: v }, { x: 0.9, y: v }]} isAnimationActive={false}
              shape={(p: any) => <line x1={p.cx - 2} x2={p.cx + 2} y1={p.cy} y2={p.cy} stroke="#fff" strokeOpacity={0.6} />} />
          ))}
        </ScatterChart>
      </div>
      <div style={{ position: 'absolute', left: 257.3 - 60, top: 543 }}>
        <ScatterChart width={60 + 78.4 + 340} height={454 + 70} margin={{ top: 0, right: 0, bottom: 0, left: 60 }}>
          <XAxis dataKey="x" type="number" domain={[0, 3]} ticks={[0.5, 1.5, 2.5]} interval={0} height={70} tickSize={0} axisLine={false} tickLine={false}
            tick={(p: any) => (
              <text x={p.x + 7} y={p.y + 11} fontSize={12.6} fontFamily={FONT} fill="#111" textAnchor="end" transform={`rotate(-45 ${p.x + 7} ${p.y + 11})`}>{ipaColumns[p.index]}</text>
            )} />
          <YAxis dataKey="y" type="number" orientation="right" reversed domain={[0, pathways.length]} ticks={ticksY} interval={0} width={340} tickSize={0} axisLine={false} tickLine={false}
            tick={(p: any) => <text x={p.x + 8} y={p.y} fontSize={13.2} fontFamily={FONT} fill="#111" dominantBaseline="central">{pathways[p.index]}</text>} />
          <Scatter data={ipaCells} isAnimationActive={false}
            shape={(p: any) => <rect x={p.cx - cellW / 2} y={p.cy - cellH / 2} width={cellW} height={cellH} fill={ipaColor(p.payload.z)} stroke="#3a1a30" strokeWidth={0.6} strokeOpacity={0.8} />} />
        </ScatterChart>
      </div>
    </>
  );
}

const GREEN = '#1f8a1f';
const NS = '#474747';

export default function App() {
  return (
    <div style={{ position: 'absolute', left: 0, top: 0, width: 798, height: 1067, background: '#fff', overflow: 'hidden' }}>
      <HeatmapPanel />

      <Txt x={305} y={9} size={15} bold family={ARIAL}>B</Txt>
      <Txt x={428} y={21} size={15.6}>Volcano plot</Txt>
      <Txt x={428} y={38} size={10.9}>COVID-19 vs non-COVID-19 in all ROIs</Txt>
      <Volcano plot={[337, 53, 181, 145]} xDomain={[-2.81, 2.84]} yDomain={[-1.06, 20.9]} frameX={[-2.81, 2.84]}
        gridX={[-2.5, -1.25, 0, 1.25, 2.5]} gridY={[0, 2.5, 5, 7.5, 10, 12.5, 15, 17.5, 20]}
        ticksX={[-2.5, 0, 1, 2.5]} ticksY={[0, 5, 10, 15, 20]} red={[1, 5]} format={(v: number) => v.toFixed(1)}
        series={[
          { name: 'NS', data: fromRows(nsRowsB), fill: NS, r: 2.2, opacity: 0.95 },
          { name: 'LFC', data: toPoints(lfcB), fill: '#6fb06f', r: 1.9, opacity: 0.8 },
          { name: 'p-value', data: toPoints(pvalueB), fill: '#4f74e0', r: 2.2, opacity: 0.65 },
          { name: 'p-value and LFC', data: toPoints(bothB), fill: '#e0604f', r: 2.1, opacity: 0.8 },
        ]}
        genes={genesB} />
      <Txt x={305} y={127} size={13.5} rotate={-90}><LogP /></Txt>
      <Txt x={426} y={224} size={13.3}><LogFc /></Txt>
      {legendB.map((label, i) => (
        <div key={label}>
          <Dot x={[323, 357, 393, 447][i]} y={242} r={3} color={legendColorsB[i]} />
          <Txt x={[331, 363, 399, 453][i]} y={243} size={11} align="left">{label}</Txt>
        </div>
      ))}

      <PcaPanel />
      <LoadingsPanel />

      <Txt x={303} y={270} size={15} bold family={ARIAL}>E</Txt>
      <Txt x={428} y={280} size={15.6}>Volcano plot</Txt>
      <Txt x={427} y={295} size={10.9}>COVID-19 vs non-COVID-19 in PECMA-1 ROIs</Txt>
      <Volcano plot={[337, 313, 185.5, 145]} xDomain={[-5.14, 5.05]} yDomain={[-0.65, 12.9]} frameX={[-5.14, 4.81]}
        gridX={[-5, -2.5, 0, 2.5]} gridY={[0, 2.5, 5, 7.5, 10, 12.5]}
        ticksX={[-5, -2.5, -1, 0, 2.5, 5]} ticksY={[0, 5, 10]} red={[-1, 5]} format={(v: number) => (v === 0 ? '0' : v.toFixed(1))}
        series={[
          { name: 'NS', data: fromCols(nsColsE), fill: NS, r: 2.3, opacity: 0.95 },
          { name: 'LFC', data: [...fromCols(lfcColsE), ...toPoints(lfcLooseE)], fill: GREEN, r: 2.1, opacity: 0.6 },
          { name: 'p-value and LFC', data: toPoints(bothE), fill: '#dc2a3c', r: 1.9, opacity: 0.75 },
        ]}
        genes={genesE} labelSize={9.4} />
      <Txt x={305} y={387} size={13.5} rotate={-90}><LogP /></Txt>
      <Txt x={430} y={485} size={13.3}><LogFc /></Txt>

      <Txt x={544} y={270} size={15} bold family={ARIAL}>F</Txt>
      <Txt x={678} y={280} size={15.6}>Volcano plot</Txt>
      <Txt x={678} y={296} size={10.9}>COVID-19 vs non-COVID-19 in CD45 ROIs</Txt>
      <Volcano plot={[595.3, 313, 190.7, 145]} xDomain={[-5.04, 6.18]} yDomain={[-0.49, 11.33]} frameX={[-4.53, 6.18]} yDx={1.7} frameColor="#222"
        gridX={[-2.5, 0, 2.5, 5]} gridY={[0, 2.5, 5, 7.5, 10]}
        ticksX={[-5, -2.5, 0, 1, 2.5, 5]} ticksY={[0, 5, 10]} red={[1, 5]} format={(v: number) => Math.abs(v).toFixed(1)}
        series={[
          { name: 'NS', data: fromCols(nsColsF), fill: NS, r: 2.3, opacity: 0.95 },
          { name: 'LFC', data: [...fromCols(lfcColsF), ...toPoints(lfcLooseF)], fill: GREEN, r: 2.1, opacity: 0.55 },
          { name: 'p-value and LFC', data: toPoints(bothF), fill: '#dc2a3c', r: 1.9, opacity: 0.75 },
        ]}
        genes={genesF} labelSize={8.6} />
      <Txt x={572} y={385} size={13.5} rotate={-90}><LogP /></Txt>
      <Txt x={695} y={485} size={13.3}><LogFc /></Txt>

      <PathwayPanel />
    </div>
  );
}
